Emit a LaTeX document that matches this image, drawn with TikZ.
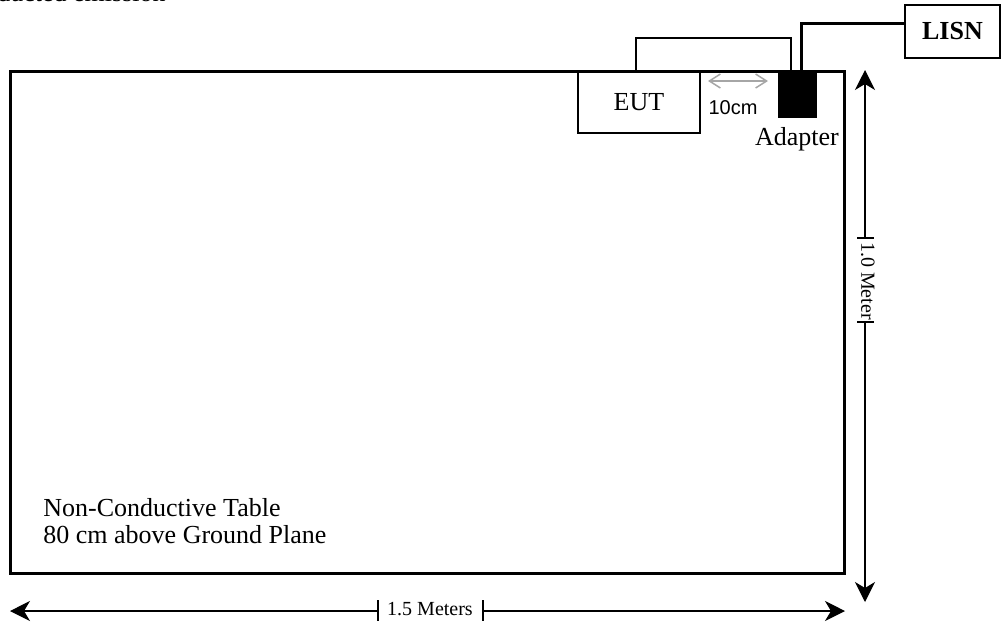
\documentclass[tikz,border=0pt]{standalone}
\usepackage{fontspec}
\setmainfont{Liberation Serif}
\newfontfamily\arialfont{Liberation Sans}
\usetikzlibrary{arrows.meta}
\tikzset{
  dimline/.style={line width=0.6pt},
  dimtip/.style={-{Stealth[length=10pt,width=10pt,inset=3pt]}},
  thinbox/.style={draw, line width=0.8pt, inner sep=0pt},
  smalltext/.style={font=\fontsize{10}{12}\selectfont},
}
\begin{document}
\begin{tikzpicture}[x=0.5pt, y=-0.5pt, font=\fontsize{13}{15}\selectfont]
\useasboundingbox (0,0) rectangle (1003,628);
\node[anchor=base east, inner sep=0pt] (title) at (166,1) {Conducted emission};
% table
\draw[line width=1.5pt] (10,71) rectangle (844,573);
\node[anchor=base west, inner sep=0pt] (tableone) at (43,516) {Non-Conductive Table};
\node[anchor=base west, inner sep=0pt] (tabletwo) at (43,543) {80 cm above Ground Plane};
% EUT, adapter, LISN
\node[thinbox, minimum width=61pt, minimum height=31pt] (eut) at (639,102) {EUT};
\node[fill=black, inner sep=0pt, minimum width=19.5pt, minimum height=23pt] (adapter) at (797.5,95) {};
\node (adapterlabel) at (797,139) {Adapter};
\node[thinbox, minimum width=47.5pt, minimum height=26.5pt, font=\fontsize{13}{15}\selectfont\bfseries] (lisn) at (952.5,31.5) {LISN};
\draw[line width=0.8pt] ([xshift=-1.5pt]eut.north) -- ++(0,-32) -| ([xshift=-3.25pt]adapter.north);
\draw[line width=1.5pt] ([xshift=1.75pt]adapter.north) |- ([yshift=4.25pt]lisn.west);
% 10 cm gap
\coordinate (gapl) at (708,81);
\coordinate (gapr) at (768,81);
\draw[gray!70, line width=0.75pt, {Straight Barb[length=5.5pt,width=7pt]}-{Straight Barb[length=5.5pt,width=7pt]}] (gapl) -- (gapr);
\node[font=\arialfont\fontsize{10}{12}\selectfont] (gaplabel) at (733,108) {10cm};
% 1.0 m
\coordinate (htop) at (865,70);
\coordinate (hbot) at (865,602);
\node[smalltext, rotate=-90] (hlabel) at (868,281) {1.0 Meter};
\draw[dimline, dimtip] (865,238) -- (htop);
\draw[dimline, dimtip] (865,322) -- (hbot);
\draw[dimline] (857,238) -- (874,238);
\draw[dimline] (857,322) -- (874,322);
% 1.5 m
\coordinate (wl) at (10,611);
\coordinate (wr) at (845,611);
\node[smalltext] (wlabel) at (430,609) {1.5 Meters};
\draw[dimline, dimtip] (378,611) -- (wl);
\draw[dimline, dimtip] (483,611) -- (wr);
\draw[dimline] (378,600) -- (378,621);
\draw[dimline] (483,600) -- (483,621);
\end{tikzpicture}
\end{document}
